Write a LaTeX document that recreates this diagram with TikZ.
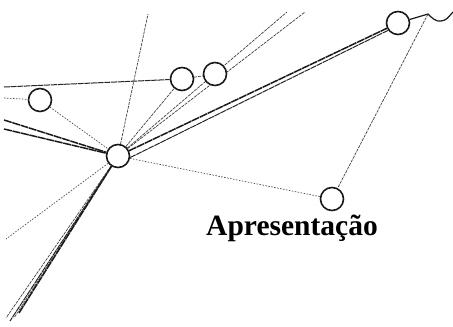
\documentclass[tikz,border=0pt]{standalone}
\usepackage{fontspec}
\setmainfont{Liberation Serif}
\usetikzlibrary{backgrounds}
\begin{document}
\begin{tikzpicture}[x=1pt,y=-1pt,
  vert/.style={circle,draw=black!90,line width=1.6pt,fill=white,minimum size=23pt,inner sep=0pt},
  thinl/.style={draw=black!75,line width=0.7pt,dash pattern=on 3pt off 1pt},
  dotl/.style={draw=black!70,line width=0.7pt,dash pattern=on 1.5pt off 1.5pt},
  medl/.style={draw=black!85,line width=1pt,dash pattern=on 6pt off 0.7pt},
  thickl/.style={draw=black!90,line width=1.5pt,dash pattern=on 8pt off 0.7pt},
  lbl/.style={font=\bfseries\fontsize{29.5}{31}\selectfont,anchor=base}]
\useasboundingbox (0,0) rectangle (453,327);
% nodes
\node[vert] (H) at (118,156) {};
\node[vert] (A) at (40,100) {};
\node[vert] (B) at (182,79) {};
\node[vert] (C) at (215,74) {};
\node[vert] (D) at (398,23) {};
\node[vert] (E) at (332,199) {};
\node[lbl] (T) at (292,235) {Apresentação};
% free ends
\coordinate (top) at (148,14);
\coordinate (l1) at (4,120);
\coordinate (l2) at (4,129);
\coordinate (l3) at (4,98);
\coordinate (l4) at (4,87);
\coordinate (t1) at (287,12);
\coordinate (t2) at (305,12);
\coordinate (dl) at (6,239);
\coordinate (b1) at (6,318);
\coordinate (b2) at (10,321);
\coordinate (b3) at (14,318);
\coordinate (b4) at (19,313);
\coordinate (pk) at (428,14);
\coordinate (w1) at (441,21);
\coordinate (w2) at (453,12);
\begin{pgfonlayer}{background}
\draw[thinl] (H) -- (top);
\draw[thickl] (l1) -- (H);
\draw[thickl] (l2) -- (H);
\draw[dotl] (l3) -- (A);
\draw[dotl] (A) -- (H);
\draw[medl] (l4) -- (B);
\draw[thinl] (H) -- (B);
\draw[thinl] (H) -- (t1);
\draw[thinl] (H) -- (t2);
\draw[thinl] (B) -- (C);
\draw[thickl] (H) -- (D);
\draw[medl] ([yshift=-1.5pt]H.east) -- ([yshift=2pt]D.south west);
\draw[dotl] (H) -- (E);
\draw[dotl] (H) -- (dl);
\draw[thinl] (H) -- (b1);
\draw[medl] (H) -- (b2);
\draw[thinl] (H) -- (b3);
\draw[thickl] (H) -- (b4);
\draw[draw=black!90,line width=1.2pt] (D) -- (pk) .. controls (432,18) and (436,22) .. (w1) .. controls (446,20) .. (w2);
\draw[thinl] (pk) -- (E);
\end{pgfonlayer}
\end{tikzpicture}
\end{document}
